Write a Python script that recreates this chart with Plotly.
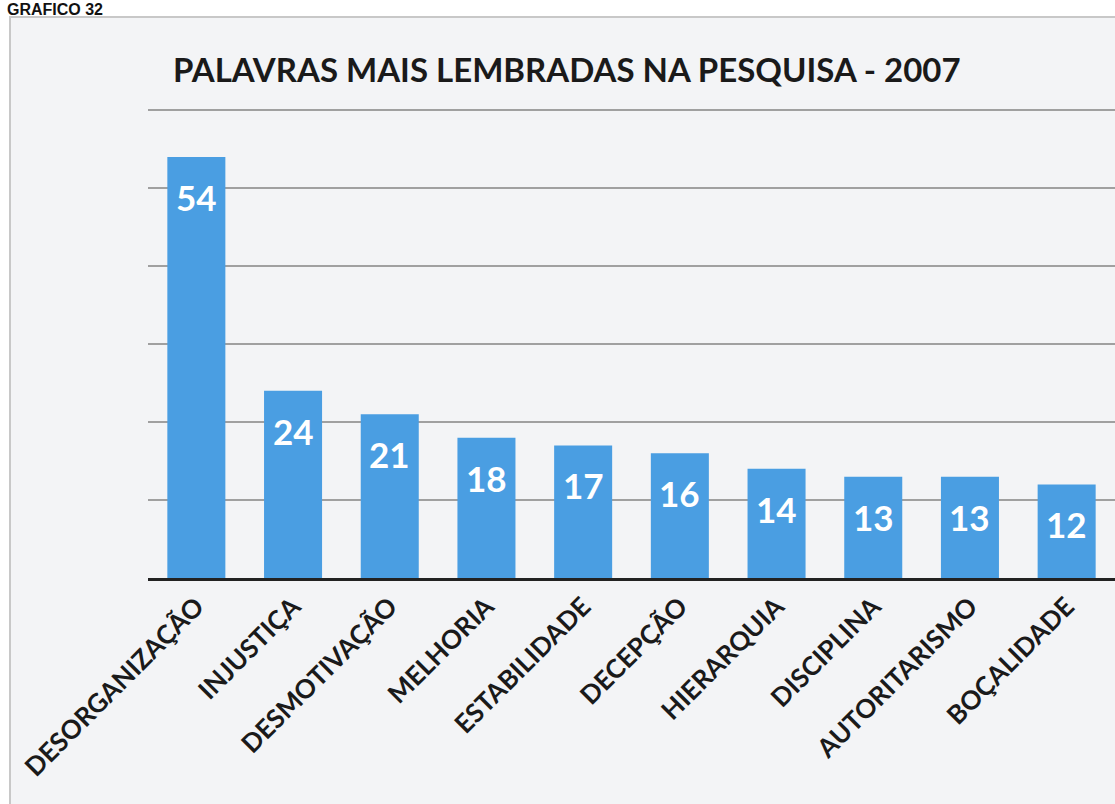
import plotly.graph_objects as go

categories = ["DESORGANIZAÇÃO", "INJUSTIÇA", "DESMOTIVAÇÃO", "MELHORIA", "ESTABILIDADE",
              "DECEPÇÃO", "HIERARQUIA", "DISCIPLINA", "AUTORITARISMO", "BOÇALIDADE"]
values = [54, 24, 21, 18, 17, 16, 14, 13, 13, 12]
title_text = "PALAVRAS MAIS LEMBRADAS NA PESQUISA - 2007"
caption_text = "GRAFICO 32"

W, H = 1115, 804
L, R, T, B = 148, 0, 107, 226
PW, PH = W - L - R, H - T - B

def px_x(p):
    return (p - L) / PW

def px_y(p):
    return 1 - (p - T) / PH

fig = go.Figure()
fig.add_trace(go.Bar(
    x=categories, y=values,
    marker=dict(color="#4a9ee2", line=dict(width=0)),
    hoverinfo="x+y",
))

annotations = []
for c, v in zip(categories, values):
    annotations.append(dict(
        x=c, y=v, xref="x", yref="y", text=str(v), showarrow=False,
        yanchor="middle", yshift=-40,
        font=dict(family="Lato", size=35, color="white", weight="bold"),
    ))
annotations.append(dict(
    x=px_x(567), y=px_y(69), xref="paper", yref="paper", text=title_text,
    showarrow=False, xanchor="center", yanchor="middle",
    font=dict(family="Lato", size=33, color="#1a1a1a", weight="bold"),
))
annotations.append(dict(
    x=px_x(6), y=px_y(0), xref="paper", yref="paper", text=caption_text,
    showarrow=False, xanchor="left", yanchor="top", borderpad=0,
    font=dict(family="Liberation Sans", size=16, color="#111111", weight="bold"),
))

shapes = [dict(
    type="rect", xref="paper", yref="paper",
    x0=px_x(10), x1=px_x(1120), y0=px_y(810), y1=px_y(17),
    fillcolor="#f3f4f6", line=dict(color="#c8c8c8", width=2), layer="below",
)]

fig.update_layout(
    width=W, height=H,
    margin=dict(l=L, r=R, t=T, b=B),
    paper_bgcolor="white", plot_bgcolor="rgba(0,0,0,0)",
    bargap=0.4, showlegend=False,
    annotations=annotations, shapes=shapes,
    xaxis=dict(
        tickangle=-45, showline=True, linecolor="#222222", linewidth=3,
        ticks="", showgrid=False,
        tickfont=dict(family="Lato", size=26, color="#1a1a1a", weight="bold"),
    ),
    yaxis=dict(
        range=[0, 60.4], dtick=10, showticklabels=False, showgrid=True,
        gridcolor="#a0a0a0", gridwidth=2, zeroline=False, ticks="",
    ),
)

fig.write_html("out.html", config={"displayModeBar": False},
               post_script="document.body.style.margin='0';")
